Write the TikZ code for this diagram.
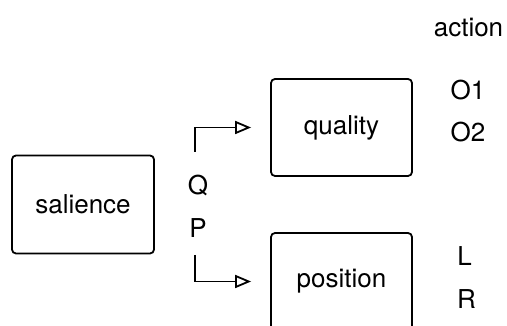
\documentclass[tikz,border=0pt]{standalone}
\usepackage{fontspec}
\setmainfont{TeX Gyre Heros}
\usetikzlibrary{arrows.meta}
\begin{document}
\begin{tikzpicture}[x=1pt,y=-1pt,
  box/.style={draw, line width=1.8pt, rounded corners=4pt, inner sep=0pt, font=\fontsize{26}{30}\selectfont},
  lbl/.style={font=\fontsize{26}{30}\selectfont, inner sep=0pt},
  arr/.style={draw, line width=1.8pt, -{Triangle[open, length=16pt, width=13pt, line width=1.8pt]}, shorten >=19pt}]
\useasboundingbox (0,0) rectangle (507,326);
\clip (0,0) rectangle (507,326);
\node[box, minimum width=142pt, minimum height=98pt] (sal) at (83,204.5) {salience};
\node[box, minimum width=141pt, minimum height=97pt] (qual) at (341.5,127.5) {quality};
\node[box, minimum width=141pt, minimum height=97pt] (pos) at (341.5,281.5) {position};
\node[lbl] (q) at (198,185) {Q};
\node[lbl] (p) at (198,228) {P};
\node[lbl] (act) at (468.5,28) {action};
\node[lbl] (o1) at (468,90) {O1};
\node[lbl] (o2) at (468,132) {O2};
\node[lbl] (l) at (464.5,256) {L};
\node[lbl] (r) at (466.5,299) {R};
\coordinate (qs) at (195,152);
\coordinate (ps) at (195,255);
\draw[arr] (qs) |- (qual.west);
\draw[arr] (ps) |- (pos.west);
\end{tikzpicture}
\end{document}
